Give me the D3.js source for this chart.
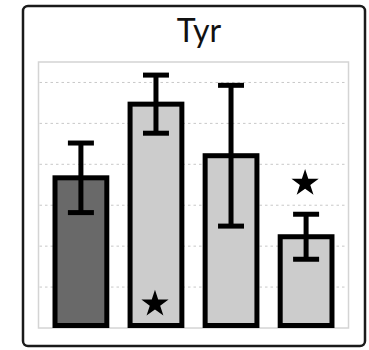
<!DOCTYPE html>
<html>
<head>
<meta charset="utf-8">
<script src="https://cdn.jsdelivr.net/npm/d3@7"></script>
<style>
  body { margin: 0; background: #fff; }
  svg { display: block; }
</style>
</head>
<body>
<svg id="svg1" width="369" height="350"></svg>
<script>
// data
var title = "Tyr";
var groups = ["A", "B", "C", "D"];
var means = [3.67, 5.47, 4.21, 2.23];
var errors = [0.85, 0.71, 1.72, 0.55];
var fills = ["#696969", "#cccccc", "#cccccc", "#cccccc"];
var stars = [null, "inside", null, "above"];
var gridValues = [1, 2, 3, 4, 5, 6];
var yMax = 6.5;

var params = {
  "svg": { "width": 369, "height": 350 },
  "plot": { "x": 38.5, "y": 62, "width": 310, "height": 266 }
};

var svg = d3.select("#svg1");

// outer frame
svg.append("rect")
  .attr("x", 23).attr("y", 6)
  .attr("width", 342).attr("height", 340)
  .attr("rx", 5)
  .style("fill", "#fff")
  .style("stroke", "#1a1a1a")
  .style("stroke-width", 2.5);

svg.append("text")
  .attr("x", 199).attr("y", 42)
  .attr("text-anchor", "middle")
  .style("font-family", "Lato, 'Liberation Sans', sans-serif")
  .style("font-size", "32px")
  .style("fill", "#111")
  .text(title);

var scale = {
  "x": d3.scaleBand()
    .domain(groups)
    .range([params.plot.x, params.plot.x + params.plot.width])
    .paddingInner(0.31)
    .paddingOuter(0.22),
  "y": d3.scaleLinear()
    .domain([0, yMax])
    .range([params.plot.y + params.plot.height, params.plot.y])
};

var plot = svg.append("g").attr("id", "plot1");

// plot background + border
plot.append("rect")
  .attr("x", params.plot.x).attr("y", params.plot.y)
  .attr("width", params.plot.width).attr("height", params.plot.height)
  .style("fill", "#fff")
  .style("stroke", "#d4d4d4")
  .style("stroke-width", 1.5);

// dashed gridlines
plot.selectAll("line.grid")
  .data(gridValues)
  .enter()
  .append("line")
  .attr("class", "grid")
  .attr("x1", params.plot.x + 1).attr("x2", params.plot.x + params.plot.width - 1)
  .attr("y1", function(d) { return scale.y(d); })
  .attr("y2", function(d) { return scale.y(d); })
  .style("stroke", "#c8c8c8")
  .style("stroke-width", 1)
  .style("stroke-dasharray", "2.5,3");

var rows = means.map(function(m, i) {
  return { "group": groups[i], "mean": m, "err": errors[i], "fill": fills[i], "star": stars[i] };
});

var barStroke = 5;

// bars
plot.selectAll("rect.bar")
  .data(rows)
  .enter()
  .append("rect")
  .attr("class", "bar")
  .attr("x", function(d) { return scale.x(d.group); })
  .attr("y", function(d) { return scale.y(d.mean); })
  .attr("width", scale.x.bandwidth())
  .attr("height", function(d) { return scale.y(0) - scale.y(d.mean) - barStroke / 2; })
  .style("fill", function(d) { return d.fill; })
  .style("stroke", "#000")
  .style("stroke-width", barStroke);

// error bars
var capHalf = 13;
var eb = plot.selectAll("g.err")
  .data(rows)
  .enter()
  .append("g")
  .attr("class", "err")
  .attr("transform", function(d) {
    return "translate(" + (scale.x(d.group) + scale.x.bandwidth() / 2) + ",0)";
  });

eb.append("line")
  .attr("x1", 0).attr("x2", 0)
  .attr("y1", function(d) { return scale.y(d.mean + d.err); })
  .attr("y2", function(d) { return scale.y(d.mean - d.err); });

eb.append("line")
  .attr("x1", -capHalf).attr("x2", capHalf)
  .attr("y1", function(d) { return scale.y(d.mean + d.err); })
  .attr("y2", function(d) { return scale.y(d.mean + d.err); });

eb.append("line")
  .attr("x1", -capHalf).attr("x2", capHalf)
  .attr("y1", function(d) { return scale.y(d.mean - d.err); })
  .attr("y2", function(d) { return scale.y(d.mean - d.err); });

eb.selectAll("line")
  .style("stroke", "#000")
  .style("stroke-width", 5);

// significance stars
var starSize = 230;
plot.selectAll("path.star")
  .data(rows.filter(function(d) { return d.star; }))
  .enter()
  .append("path")
  .attr("class", "star")
  .attr("d", d3.symbol().type(d3.symbolStar).size(starSize))
  .attr("transform", function(d) {
    var cx = scale.x(d.group) + scale.x.bandwidth() / 2 - 1;
    var cy = d.star === "inside"
      ? scale.y(0) - 24
      : scale.y(d.mean + d.err) - 31;
    return "translate(" + cx + "," + cy + ")";
  })
  .style("fill", "#000");
</script>
</body>
</html>
